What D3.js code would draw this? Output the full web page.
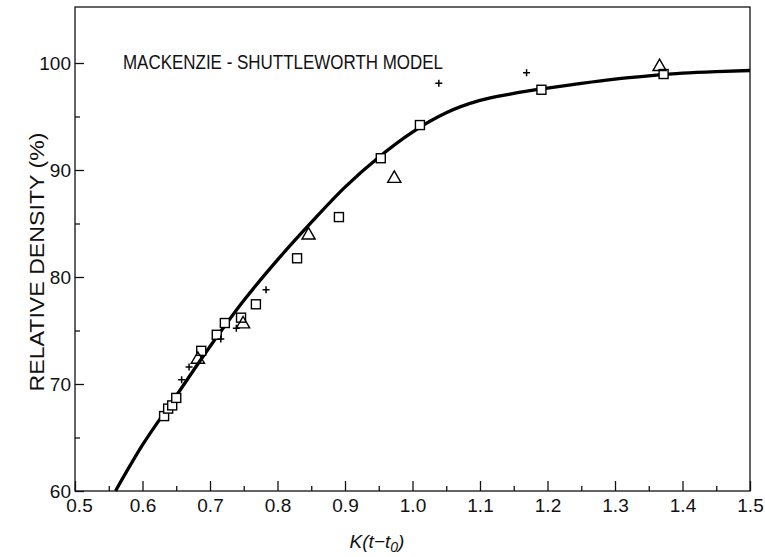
<!DOCTYPE html>
<html>
<head>
<meta charset="utf-8">
<script src="https://cdn.jsdelivr.net/npm/d3@7"></script>
<style>
  body { margin: 0; background: #fff; }
  text { font-family: "Liberation Sans", Arial, sans-serif; fill: #111; }
</style>
</head>
<body>
<div id="chart"></div>
<script>
// data
var curveX = [0.56, 0.6, 0.65, 0.7, 0.75, 0.8, 0.85, 0.9, 0.95, 1.0, 1.05, 1.1, 1.15, 1.2, 1.25, 1.3, 1.35, 1.4, 1.45, 1.5];
var curveY = [60, 64.3, 68.9, 73.5, 77.8, 81.6, 85.1, 88.4, 91.2, 93.55, 95.35, 96.5, 97.15, 97.65, 98.1, 98.5, 98.8, 99.05, 99.2, 99.3];

var squareX = [0.632, 0.638, 0.644, 0.650, 0.687, 0.710, 0.722, 0.746, 0.768, 0.829, 0.891, 0.953, 1.011, 1.191, 1.372];
var squareY = [67.0, 67.7, 68.0, 68.7, 73.1, 74.6, 75.7, 76.2, 77.45, 81.75, 85.6, 91.1, 94.2, 97.5, 98.97];

var triangleX = [0.682, 0.749, 0.846, 0.973, 1.366];
var triangleY = [72.3, 75.6, 83.9, 89.2, 99.65];

var plusX = [0.658, 0.669, 0.716, 0.739, 0.783, 1.039, 1.169];
var plusY = [70.4, 71.6, 74.2, 75.2, 78.8, 98.1, 99.1];

var xTicks = [0.5, 0.6, 0.7, 0.8, 0.9, 1.0, 1.1, 1.2, 1.3, 1.4, 1.5];
var yTicks = [60, 70, 80, 90, 100];

var width = 765, height = 557;
var plotLeft = 75, plotRight = 750, plotTop = 7, plotBottom = 491;

var svg = d3.select('#chart').append('svg')
  .attr('width', width)
  .attr('height', height);

var x = d3.scaleLinear().domain([0.5, 1.5]).range([plotLeft, plotRight]);
var y = d3.scaleLinear().domain([60, 100]).range([plotBottom, 63]);

// frame
svg.append('rect')
  .attr('x', plotLeft).attr('y', plotTop)
  .attr('width', plotRight - plotLeft).attr('height', plotBottom - plotTop)
  .attr('fill', 'none').attr('stroke', '#111').attr('stroke-width', 1.3);

// x axis, ticks pointing inward
var xMinor = d3.range(0.55, 1.5, 0.1);
svg.append('g').attr('transform', 'translate(0,' + plotBottom + ')')
  .call(d3.axisTop(x).tickValues(xMinor).tickSize(5).tickFormat(''))
  .call(function (g) { g.select('.domain').remove(); });
var xAxis = svg.append('g').attr('transform', 'translate(0,' + plotBottom + ')')
  .call(d3.axisTop(x).tickValues(xTicks).tickSize(10).tickFormat(d3.format('.1f')));
xAxis.select('.domain').remove();
xAxis.selectAll('text')
  .attr('y', 21).attr('dy', 0)
  .style('font-size', '19px')
  .style('font-family', '"Liberation Sans", Arial, sans-serif')
  .attr('dx', function (d) { return d === 0.5 ? 4 : 0; });

// y axis
var yMinor = [65, 75, 85, 95];
svg.append('g').attr('transform', 'translate(' + plotLeft + ',0)')
  .call(d3.axisRight(y).tickValues(yMinor).tickSize(5).tickFormat(''))
  .call(function (g) { g.select('.domain').remove(); });
var yAxis = svg.append('g').attr('transform', 'translate(' + plotLeft + ',0)')
  .call(d3.axisRight(y).tickValues(yTicks).tickSize(9));
yAxis.select('.domain').remove();
yAxis.selectAll('text')
  .attr('x', -4).attr('text-anchor', 'end')
  .style('font-size', '19px')
  .style('font-family', '"Liberation Sans", Arial, sans-serif');
svg.selectAll('.tick line').attr('stroke', '#111').attr('stroke-width', 1.3);

// model curve
var line = d3.line()
  .x(function (d) { return x(d[0]); })
  .y(function (d) { return y(d[1]); })
  .curve(d3.curveMonotoneX);

svg.append('path')
  .datum(d3.zip(curveX, curveY))
  .attr('d', line)
  .attr('fill', 'none')
  .attr('stroke', '#000')
  .attr('stroke-width', 3.3);

// markers
svg.selectAll('.sq')
  .data(d3.zip(squareX, squareY))
  .enter().append('rect')
  .attr('class', 'sq')
  .attr('x', function (d) { return x(d[0]) - 4.5; })
  .attr('y', function (d) { return y(d[1]) - 4.5; })
  .attr('width', 9).attr('height', 9)
  .attr('fill', '#fff').attr('stroke', '#000').attr('stroke-width', 1.4);

var tri = d3.symbol().type(d3.symbolTriangle).size(75);
svg.selectAll('.tri')
  .data(d3.zip(triangleX, triangleY))
  .enter().append('path')
  .attr('class', 'tri')
  .attr('transform', function (d) { return 'translate(' + x(d[0]) + ',' + y(d[1]) + ')'; })
  .attr('d', tri)
  .attr('fill', 'none').attr('stroke', '#000').attr('stroke-width', 1.4);

svg.selectAll('.pl')
  .data(d3.zip(plusX, plusY))
  .enter().append('path')
  .attr('class', 'pl')
  .attr('transform', function (d) { return 'translate(' + x(d[0]) + ',' + y(d[1]) + ')'; })
  .attr('d', 'M-3.5,0H3.5M0,-3.5V3.5')
  .attr('fill', 'none').attr('stroke', '#000').attr('stroke-width', 1.5);

// texts
svg.append('text')
  .attr('x', 123).attr('y', 69)
  .attr('textLength', 320).attr('lengthAdjust', 'spacingAndGlyphs')
  .style('font-size', '21px')
  .text('MACKENZIE - SHUTTLEWORTH MODEL');

svg.append('text')
  .attr('transform', 'translate(44,262) rotate(-90)')
  .attr('text-anchor', 'middle')
  .attr('textLength', 259).attr('lengthAdjust', 'spacingAndGlyphs')
  .style('font-size', '20px')
  .text('RELATIVE DENSITY (%)');

var xt = svg.append('text')
  .attr('x', 377).attr('y', 548)
  .attr('text-anchor', 'middle')
  .style('font-size', '19px')
  .style('font-style', 'italic');
xt.append('tspan').text('K(t\u2212t');
xt.append('tspan').attr('dy', 4).style('font-size', '14px').text('0');
xt.append('tspan').attr('dy', -4).text(')');
</script>
</body>
</html>
